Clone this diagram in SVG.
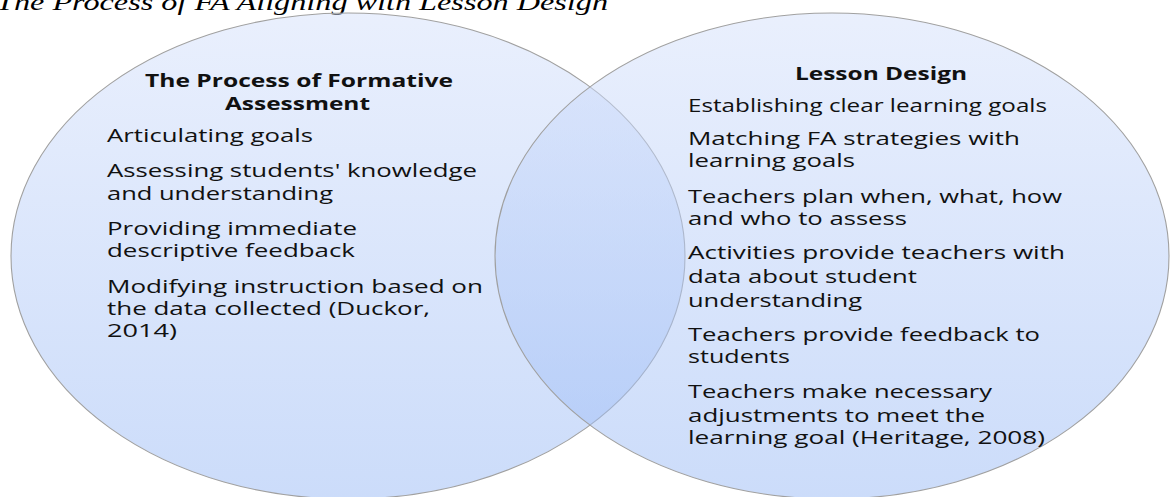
<svg xmlns="http://www.w3.org/2000/svg" width="1173" height="497" viewBox="0 0 1173 497">
  <style>
    .title { font-family: "Liberation Serif", "Times New Roman", serif; font-style: italic; font-size: 23px; fill: #000; }
    .venn { fill: url(#vennFill); stroke: #a0a0a0; stroke-width: 1.1; }
    .head { font-family: "Open Sans", "Noto Sans", sans-serif; font-weight: bold; font-size: 18px; fill: #111; }
    .item { font-family: "Open Sans", "Noto Sans", sans-serif; font-size: 18px; fill: #111; }
  </style>
  <defs>
    <linearGradient id="vennFill" x1="0" y1="0" x2="0" y2="1">
      <stop offset="0" stop-color="#d4e0fb" stop-opacity="0.5"/>
      <stop offset="1" stop-color="#98b9f5" stop-opacity="0.5"/>
    </linearGradient>
  </defs>

  <rect width="1173" height="497" fill="#ffffff"/>

  <text class="title" x="-4" y="10" textLength="612" lengthAdjust="spacingAndGlyphs">The Process of FA Aligning with Lesson Design</text>

  <!-- left set: the formative assessment process -->
  <g id="set-formative-assessment">
    <ellipse class="venn" cx="348" cy="256" rx="337" ry="243"/>
    <text class="head" x="145" y="87" textLength="308" lengthAdjust="spacingAndGlyphs">The Process of Formative</text>
    <text class="head" x="225" y="110" textLength="145" lengthAdjust="spacingAndGlyphs">Assessment</text>
    <text class="item" x="107" y="142" textLength="206" lengthAdjust="spacingAndGlyphs">Articulating goals</text>
    <text class="item" x="107" y="177" textLength="370" lengthAdjust="spacingAndGlyphs">Assessing students' knowledge</text>
    <text class="item" x="107" y="200" textLength="226" lengthAdjust="spacingAndGlyphs">and understanding</text>
    <text class="item" x="107" y="235" textLength="250" lengthAdjust="spacingAndGlyphs">Providing immediate</text>
    <text class="item" x="107" y="257" textLength="248" lengthAdjust="spacingAndGlyphs">descriptive feedback</text>
    <text class="item" x="107" y="293" textLength="376" lengthAdjust="spacingAndGlyphs">Modifying instruction based on</text>
    <text class="item" x="107" y="315" textLength="323" lengthAdjust="spacingAndGlyphs">the data collected (Duckor,</text>
    <text class="item" x="107" y="337" textLength="70" lengthAdjust="spacingAndGlyphs">2014)</text>
  </g>

  <!-- right set: lesson design -->
  <g id="set-lesson-design">
    <ellipse class="venn" cx="832" cy="256" rx="337" ry="243"/>
    <text class="head" x="795" y="80" textLength="172" lengthAdjust="spacingAndGlyphs">Lesson Design</text>
    <text class="item" x="688" y="112" textLength="359" lengthAdjust="spacingAndGlyphs">Establishing clear learning goals</text>
    <text class="item" x="688" y="145" textLength="332" lengthAdjust="spacingAndGlyphs">Matching FA strategies with</text>
    <text class="item" x="688" y="167" textLength="167" lengthAdjust="spacingAndGlyphs">learning goals</text>
    <text class="item" x="688" y="203" textLength="374" lengthAdjust="spacingAndGlyphs">Teachers plan when, what, how</text>
    <text class="item" x="688" y="225" textLength="219" lengthAdjust="spacingAndGlyphs">and who to assess</text>
    <text class="item" x="688" y="259" textLength="377" lengthAdjust="spacingAndGlyphs">Activities provide teachers with</text>
    <text class="item" x="688" y="283" textLength="229" lengthAdjust="spacingAndGlyphs">data about student</text>
    <text class="item" x="688" y="307" textLength="174" lengthAdjust="spacingAndGlyphs">understanding</text>
    <text class="item" x="688" y="341" textLength="352" lengthAdjust="spacingAndGlyphs">Teachers provide feedback to</text>
    <text class="item" x="688" y="363" textLength="102" lengthAdjust="spacingAndGlyphs">students</text>
    <text class="item" x="688" y="398" textLength="304" lengthAdjust="spacingAndGlyphs">Teachers make necessary</text>
    <text class="item" x="688" y="422" textLength="297" lengthAdjust="spacingAndGlyphs">adjustments to meet the</text>
    <text class="item" x="688" y="444" textLength="357" lengthAdjust="spacingAndGlyphs">learning goal (Heritage, 2008)</text>
  </g>
</svg>
